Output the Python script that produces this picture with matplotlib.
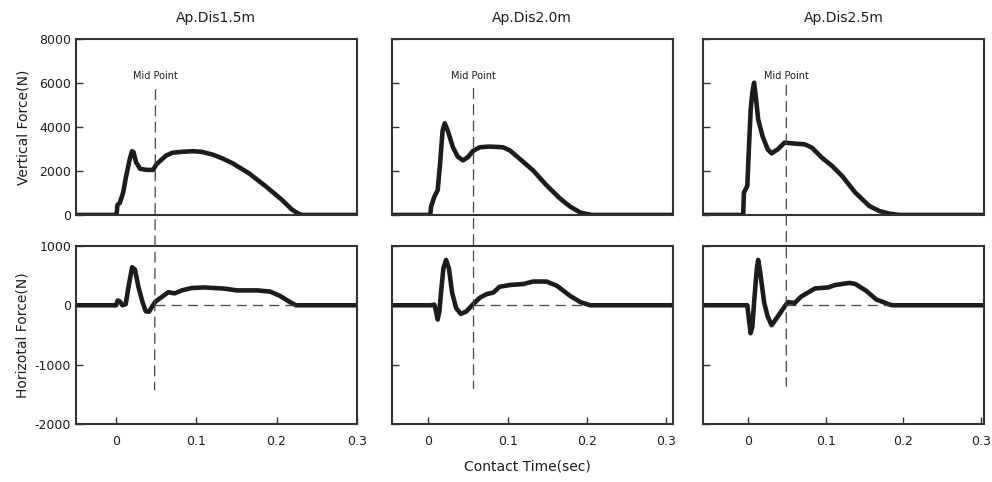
"""
plot.py - vertical / horizontal ground reaction force vs contact time for three
approach distances, with the mid point marked across both rows.
"""
import matplotlib

matplotlib.use("Agg")
import matplotlib.pyplot as plt
from matplotlib.patches import ConnectionPatch

INK = "#1c1c1c"
FRAME = "#333333"

TITLES = ["Ap.Dis1.5m", "Ap.Dis2.0m", "Ap.Dis2.5m"]
MID_T = [0.048, 0.057, 0.049]
MID_TOP = [5700, 5750, 5900]
MID_BOT = [-1420, -1400, -1360]
ZERO_END = [0.224, 0.196, 0.182]

XTICKS = [0, 0.1, 0.2, 0.3]
XTICKLABELS = ["0", "0.1", "0.2", "0.3"]
VTICKS = [0, 2000, 4000, 6000, 8000]
HTICKS = [-2000, -1000, 0, 1000]

# vertical force, 1.5 m
V1_T = [-0.05, 0.0, 0.001, 0.004, 0.008, 0.012, 0.016, 0.019, 0.021, 0.024,
        0.029, 0.037, 0.045, 0.049, 0.055, 0.061, 0.069, 0.080, 0.094, 0.105,
        0.118, 0.130, 0.143, 0.163, 0.184, 0.204, 0.216, 0.224, 0.229, 0.31]
V1_F = [0, 0, 450, 550, 1000, 1800, 2500, 2900, 2850, 2400,
        2100, 2050, 2050, 2300, 2500, 2700, 2830, 2870, 2900, 2870,
        2750, 2580, 2350, 1900, 1300, 680, 250, 60, 0, 0]
# horizontal force, 1.5 m
H1_T = [-0.05, 0.0, 0.002, 0.005, 0.008, 0.012, 0.016, 0.020, 0.0235, 0.028,
        0.033, 0.037, 0.041, 0.045, 0.049, 0.057, 0.065, 0.073, 0.082, 0.094,
        0.110, 0.135, 0.151, 0.176, 0.192, 0.204, 0.216, 0.224, 0.31]
H1_F = [0, 0, 80, 60, 0, 20, 350, 640, 600, 300,
        50, -100, -110, -20, 60, 140, 220, 200, 250, 290,
        300, 280, 250, 250, 230, 160, 60, 0, 0]

# vertical force, 2.0 m
V2_T = [-0.05, 0.0025, 0.0034, 0.0076, 0.0118, 0.0148, 0.018, 0.0207, 0.0245,
        0.031, 0.037, 0.0436, 0.050, 0.056, 0.065, 0.077, 0.094, 0.103, 0.115,
        0.132, 0.149, 0.166, 0.179, 0.192, 0.206, 0.31]
V2_F = [0, 0, 375, 830, 1130, 2330, 3835, 4170, 3835,
        3080, 2660, 2480, 2630, 2900, 3080, 3110, 3080, 2930, 2560,
        2030, 1350, 750, 375, 105, 0, 0]
# horizontal force, 2.0 m
H2_T = [-0.05, 0.003, 0.0076, 0.0097, 0.0118, 0.014, 0.016, 0.019, 0.0224,
        0.026, 0.030, 0.035, 0.041, 0.048, 0.056, 0.065, 0.073, 0.082, 0.090,
        0.103, 0.120, 0.132, 0.149, 0.162, 0.179, 0.192, 0.204, 0.31]
H2_F = [0, 0, 10, -100, -240, -100, 214, 618, 763,
        618, 214, -46, -145, -104, 12, 127, 185, 214, 312,
        341, 358, 399, 399, 329, 156, 52, 0, 0]

# vertical force, 2.5 m
V3_T = [-0.06, -0.0066, -0.0057, -0.0013, 0.0009, 0.0031, 0.0052, 0.0074,
        0.0096, 0.0127, 0.0183, 0.025, 0.030, 0.038, 0.0467, 0.0555, 0.073,
        0.082, 0.095, 0.108, 0.121, 0.138, 0.156, 0.169, 0.182, 0.195, 0.31]
V3_F = [0, 0, 1015, 1320, 3135, 4800, 5560, 6015,
        5410, 4350, 3590, 2985, 2800, 2985, 3290, 3260, 3210,
        3060, 2600, 2230, 1770, 1015, 410, 180, 60, 0, 0]
# horizontal force, 2.5 m
H3_T = [-0.06, -0.0013, 0.0009, 0.003, 0.0052, 0.0074, 0.011, 0.0127, 0.0153,
        0.0205, 0.025, 0.030, 0.038, 0.047, 0.051, 0.060, 0.068, 0.077, 0.086,
        0.103, 0.112, 0.130, 0.138, 0.152, 0.165, 0.182, 0.186, 0.31]
H3_F = [0, 0, -250, -470, -364, 40, 618, 763, 560,
        40, -190, -335, -190, -17, 52, 40, 145, 214, 283,
        300, 341, 376, 358, 243, 98, 12, 0, 0]

VERT = [(V1_T, V1_F), (V2_T, V2_F), (V3_T, V3_F)]
HORI = [(H1_T, H1_F), (H2_T, H2_F), (H3_T, H3_F)]

LEFTS = [0.0766, 0.395, 0.709]
WIDTH = 0.283
TOP_Y, TOP_H = 0.554, 0.365
BOT_Y, BOT_H = 0.120, 0.370
XLIMS = [(-0.050, 0.296), (-0.046, 0.308), (-0.058, 0.304)]


def frame(ax, xlim):
    for s in ax.spines.values():
        s.set_linewidth(1.5)
        s.set_color(FRAME)
    ax.tick_params(direction="in", length=5, width=1.0, color=FRAME,
                   labelsize=9, labelcolor=INK)
    ax.set_xlim(*xlim)


def main():
    fig = plt.figure(figsize=(9.92, 4.82), dpi=100, facecolor="white")
    for i in range(3):
        at = fig.add_axes([LEFTS[i], TOP_Y, WIDTH, TOP_H])
        ab = fig.add_axes([LEFTS[i], BOT_Y, WIDTH, BOT_H])
        frame(at, XLIMS[i])
        frame(ab, XLIMS[i])

        t, f = VERT[i]
        at.plot(t, f, color=INK, lw=3.3, solid_joinstyle="round",
                solid_capstyle="round")
        at.set_ylim(0, 8000)
        at.set_yticks(VTICKS)
        at.set_xticks([])
        at.set_title(TITLES[i], fontsize=10, color=INK, pad=12)

        t, f = HORI[i]
        ab.plot(t, f, color=INK, lw=3.3, solid_joinstyle="round",
                solid_capstyle="round")
        ab.plot([MID_T[i], ZERO_END[i]], [0, 0], color="#444444", lw=0.9,
                dashes=(8, 5))
        ab.set_ylim(-2000, 1000)
        ab.set_yticks(HTICKS)
        ab.set_xticks(XTICKS)
        ab.set_xticklabels(XTICKLABELS)
        ab.tick_params(axis="x", pad=8)

        if i == 0:
            at.set_yticklabels([str(v) for v in VTICKS])
            ab.set_yticklabels([str(v) for v in HTICKS])
            at.set_ylabel("Vertical Force(N)", fontsize=10, color=INK,
                          labelpad=6)
            ab.set_ylabel("Horizotal Force(N)", fontsize=10, color=INK,
                          labelpad=4)
        else:
            at.set_yticklabels([])
            ab.set_yticklabels([])

        at.text(MID_T[i], 6100, "Mid Point", fontsize=7, color=INK,
                ha="center", va="bottom")
        con = ConnectionPatch(xyA=(MID_T[i], MID_TOP[i]), coordsA=at.transData,
                              xyB=(MID_T[i], MID_BOT[i]), coordsB=ab.transData,
                              color="#444444", lw=0.9, linestyle=(0, (8, 5)))
        fig.add_artist(con)

    fig.text(0.532, 0.018, "Contact Time(sec)", fontsize=10, color=INK,
             ha="center", va="bottom")
    fig.savefig("out.png", dpi=100, facecolor="white")
    plt.close(fig)


if __name__ == "__main__":
    main()
